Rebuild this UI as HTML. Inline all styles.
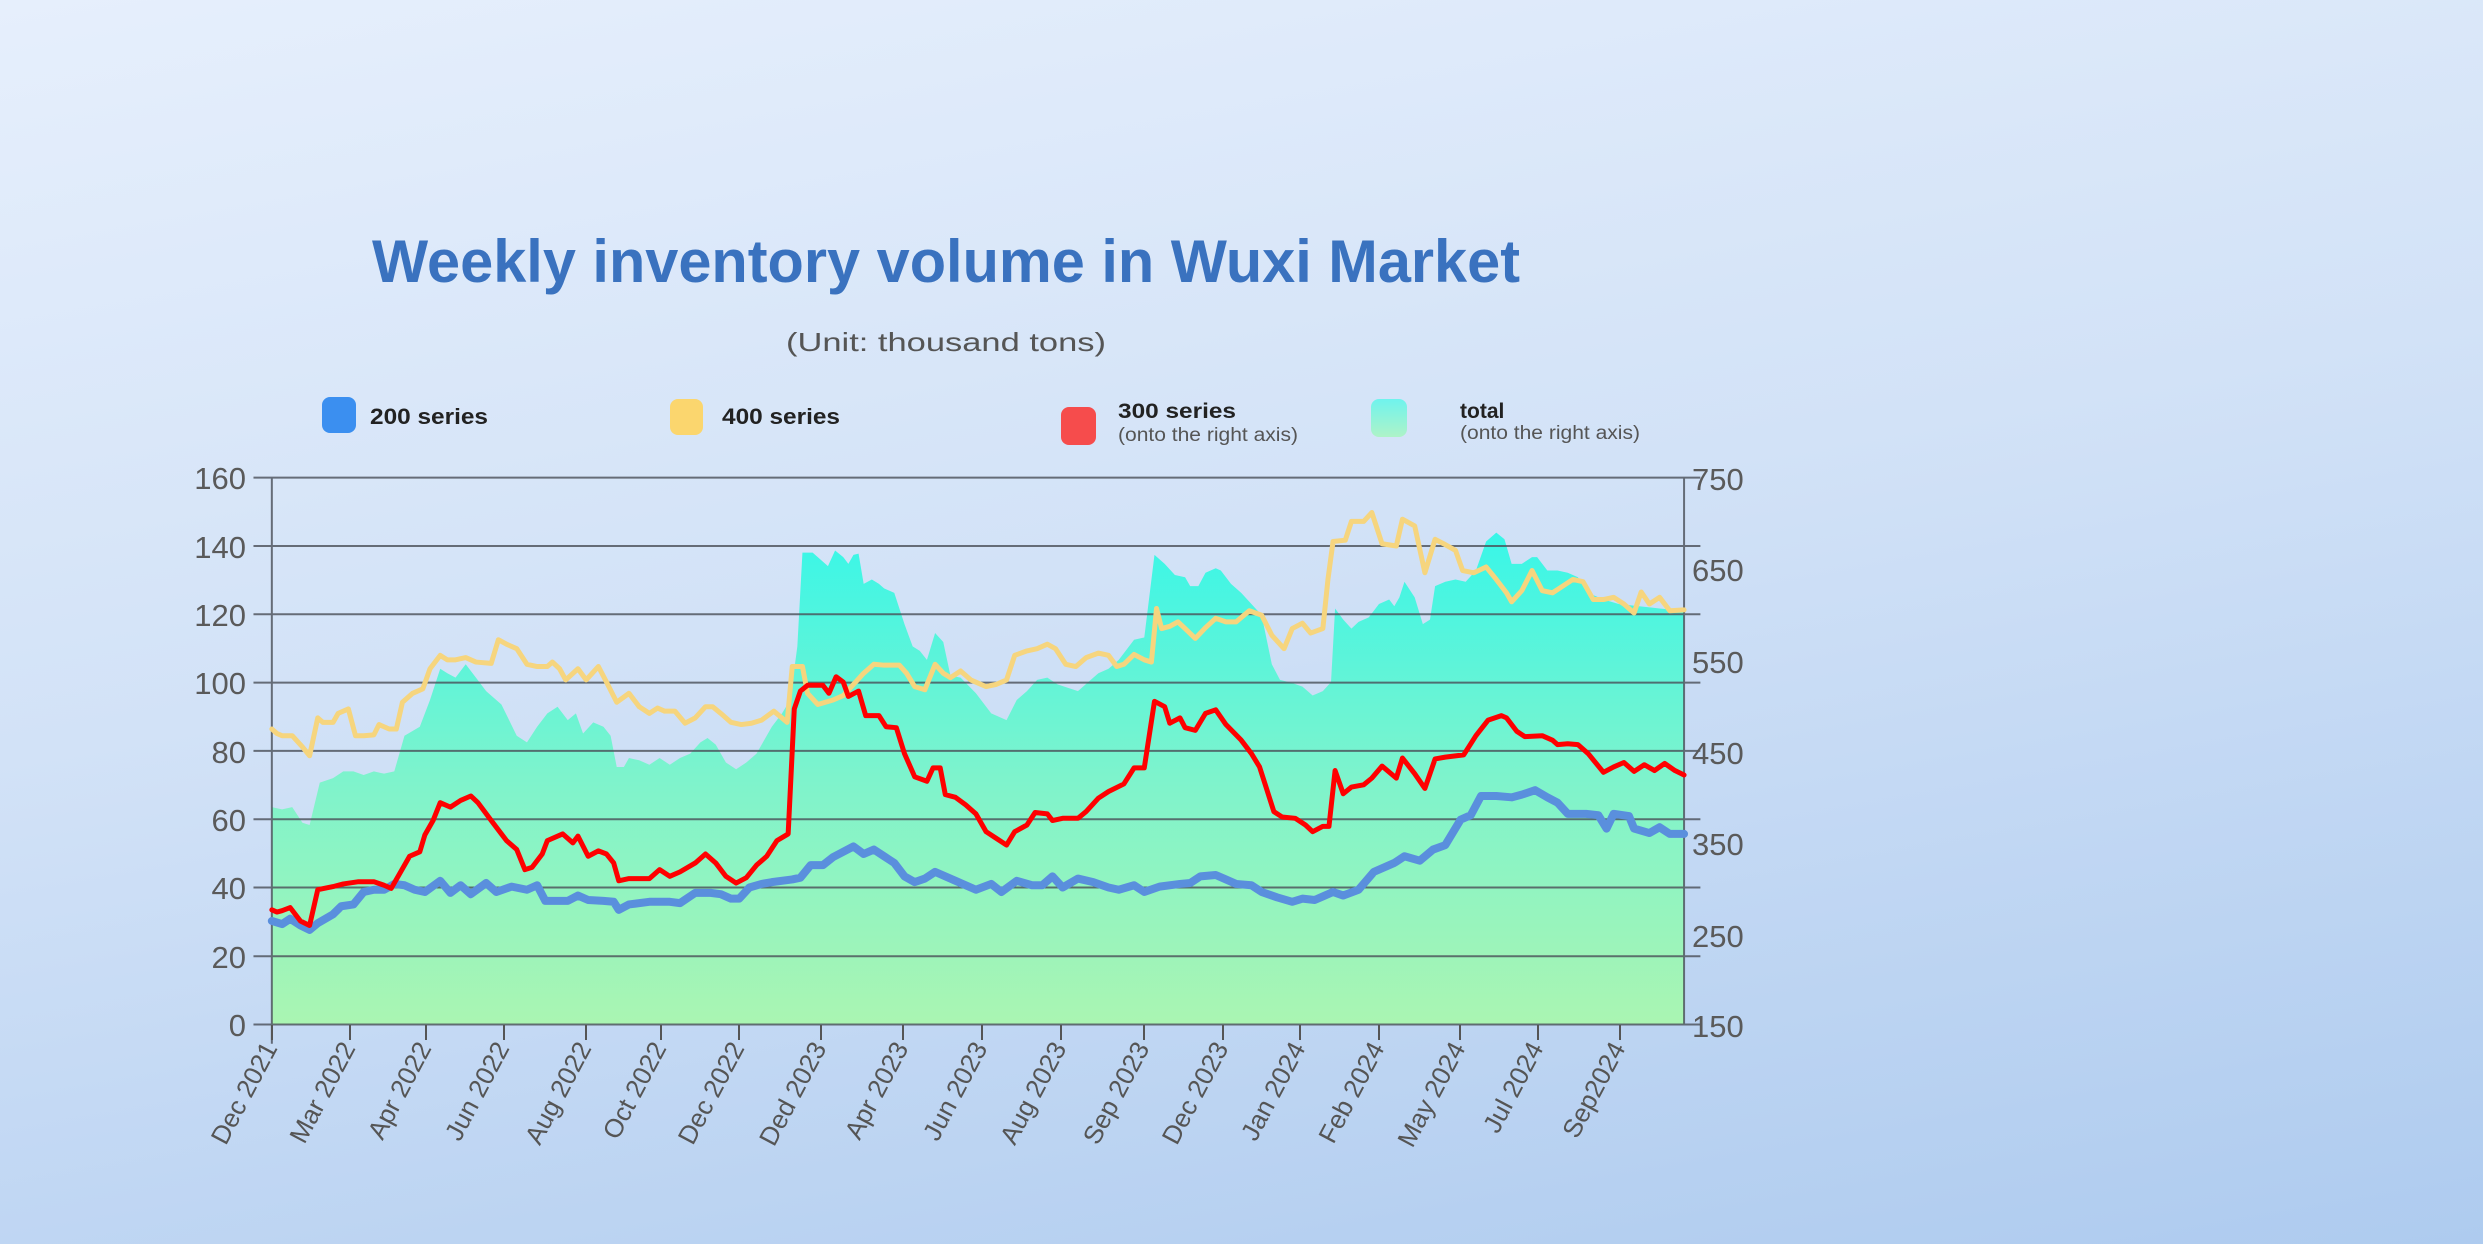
<!DOCTYPE html>
<html><head><meta charset="utf-8"><style>
html,body{margin:0;padding:0;width:2483px;height:1244px;overflow:hidden;}
body{background:linear-gradient(170deg,#e6effc 0%,#d2e2f7 45%,#aecbef 100%);}
svg{position:absolute;left:0;top:0;font-family:"Liberation Sans","DejaVu Sans",sans-serif;}
</style></head><body>
<svg width="2483" height="1244" viewBox="0 0 2483 1244">
<defs>
<linearGradient id="ag" x1="0" y1="0" x2="0" y2="1">
<stop offset="0" stop-color="#38f6e8"/><stop offset="0.5" stop-color="#7ef3cc"/><stop offset="1" stop-color="#aaf5b2"/>
</linearGradient>
<linearGradient id="lg" x1="0" y1="0" x2="0" y2="1">
<stop offset="0" stop-color="#6ff3ee"/><stop offset="1" stop-color="#aef3c8"/>
</linearGradient>
</defs>
<text x="946" y="282" text-anchor="middle" font-size="60" font-weight="bold" fill="#3a72bf" textLength="1148" lengthAdjust="spacingAndGlyphs">Weekly inventory volume in Wuxi Market</text>
<text x="946" y="351" text-anchor="middle" font-size="26" fill="#555" textLength="320" lengthAdjust="spacingAndGlyphs">(Unit: thousand tons)</text>
<!-- legend -->
<rect x="322" y="397" width="34" height="36" rx="8" fill="#3b8ff0"/>
<text x="370" y="424" font-size="22" font-weight="bold" fill="#222" textLength="118" lengthAdjust="spacingAndGlyphs">200 series</text>
<rect x="670" y="399" width="33" height="36" rx="8" fill="#fbd66e"/>
<text x="722" y="424" font-size="22" font-weight="bold" fill="#222" textLength="118" lengthAdjust="spacingAndGlyphs">400 series</text>
<rect x="1061" y="407" width="35" height="38" rx="8" fill="#f64c4c"/>
<text x="1118" y="418" font-size="21" font-weight="bold" fill="#222" textLength="118" lengthAdjust="spacingAndGlyphs">300 series</text>
<text x="1118" y="441" font-size="19" fill="#555" textLength="180" lengthAdjust="spacingAndGlyphs">(onto the right axis)</text>
<rect x="1371" y="399" width="36" height="38" rx="8" fill="url(#lg)"/>
<text x="1460" y="418" font-size="21" font-weight="bold" fill="#222">total</text>
<text x="1460" y="439" font-size="19" fill="#555" textLength="180" lengthAdjust="spacingAndGlyphs">(onto the right axis)</text>

<g transform="translate(180,450) scale(1.0204,0.44643)">
<path fill="url(#ag)" d="M90,800 L100,805 110,800 120,835 127,840 137,745 150,735 160,720 170,720 180,728 190,720 200,725 210,720 220,640 235,620 245,560 255,490 262,500 270,510 280,480 290,510 300,540 315,570 330,640 340,655 350,620 360,590 370,575 380,605 388,590 395,635 405,610 415,620 422,640 428,710 435,710 440,690 450,695 460,705 470,690 480,705 490,690 500,680 510,655 517,645 525,660 535,700 545,715 555,700 565,680 580,620 590,590 598,560 605,440 610,230 620,230 630,250 635,260 642,225 650,240 655,255 660,235 665,232 670,300 678,290 685,300 690,310 700,320 710,390 718,440 725,450 732,470 740,410 748,430 755,505 765,510 780,545 795,590 810,605 820,560 830,540 840,515 850,510 860,525 880,540 890,520 900,500 910,490 920,470 935,425 945,420 955,235 965,255 975,280 985,285 990,305 998,305 1005,275 1015,265 1020,270 1030,300 1040,320 1050,345 1060,370 1070,480 1078,515 1090,522 1100,530 1110,550 1120,540 1128,520 1132,355 1140,380 1148,400 1155,385 1165,375 1175,345 1185,335 1190,350 1195,330 1200,295 1210,330 1218,390 1225,380 1230,305 1240,295 1250,290 1260,295 1270,270 1280,205 1290,185 1298,200 1305,255 1315,255 1325,240 1330,240 1340,270 1350,270 1360,275 1370,285 1380,320 1395,335 1410,345 1430,350 1450,355 1474,360 L1474,1287 L90,1287 Z"/>
<g stroke="#4a4f58" stroke-width="2" vector-effect="non-scaling-stroke" opacity="0.8">
<line x1="72" y1="62" x2="1490" y2="62" vector-effect="non-scaling-stroke"/>
<line x1="72" y1="215" x2="1490" y2="215" vector-effect="non-scaling-stroke"/>
<line x1="72" y1="368" x2="1490" y2="368" vector-effect="non-scaling-stroke"/>
<line x1="72" y1="521" x2="1490" y2="521" vector-effect="non-scaling-stroke"/>
<line x1="72" y1="674" x2="1490" y2="674" vector-effect="non-scaling-stroke"/>
<line x1="72" y1="827" x2="1490" y2="827" vector-effect="non-scaling-stroke"/>
<line x1="72" y1="980" x2="1490" y2="980" vector-effect="non-scaling-stroke"/>
<line x1="72" y1="1134" x2="1490" y2="1134" vector-effect="non-scaling-stroke"/>
<line x1="72" y1="1287" x2="1490" y2="1287" vector-effect="non-scaling-stroke"/>
<line x1="90" y1="62" x2="90" y2="1330" vector-effect="non-scaling-stroke"/>
<line x1="1474" y1="62" x2="1474" y2="1287" vector-effect="non-scaling-stroke"/>
</g>
<g fill="none" stroke-linejoin="round" stroke-linecap="round">
<path stroke="#f6d57e" stroke-width="5" vector-effect="non-scaling-stroke" d="M90,625 L95,635 100,640 110,640 120,665 127,685 135,600 140,610 150,610 155,590 165,580 172,640 180,640 190,638 195,615 205,625 212,625 218,565 228,545 238,535 245,490 255,460 262,470 270,470 280,465 290,475 305,478 312,425 320,435 330,445 340,480 350,485 360,485 365,475 372,490 378,515 390,490 398,515 410,485 418,520 428,565 440,545 450,575 460,590 468,578 475,585 485,585 495,612 505,600 515,575 522,575 530,590 540,610 550,615 560,612 570,605 582,585 595,610 600,485 610,485 615,545 625,570 640,560 650,550 660,525 670,500 680,480 690,482 705,482 712,500 720,530 730,537 740,480 748,500 755,510 765,495 775,515 790,530 800,525 810,515 818,460 830,450 840,445 850,435 858,445 868,480 878,485 888,465 900,455 910,460 918,485 925,480 935,458 945,470 952,475 957,355 962,400 970,395 978,385 985,400 995,422 1005,398 1015,377 1025,385 1035,385 1048,360 1060,370 1070,415 1082,445 1090,400 1100,388 1108,410 1120,400 1125,290 1130,205 1142,202 1148,160 1160,160 1168,140 1178,210 1192,215 1198,155 1210,170 1220,275 1230,200 1240,212 1250,225 1257,270 1268,275 1280,262 1290,290 1300,320 1305,340 1315,315 1325,270 1335,315 1345,320 1355,305 1365,290 1375,295 1385,335 1395,335 1405,330 1415,345 1425,365 1432,318 1440,345 1450,330 1460,360 1474,358"/>
<path stroke="#5a8fdd" stroke-width="8" vector-effect="non-scaling-stroke" d="M90,1055 L100,1062 108,1050 118,1065 127,1075 135,1060 150,1040 158,1022 170,1018 180,990 190,985 200,985 210,972 220,975 230,985 240,990 255,965 265,992 275,975 285,995 300,970 310,990 325,978 340,985 350,975 358,1010 370,1010 380,1010 390,998 400,1008 415,1010 425,1012 430,1030 440,1018 460,1012 480,1012 490,1015 505,992 520,992 530,995 540,1005 548,1005 558,980 570,972 580,968 600,962 608,958 618,930 630,930 640,912 660,888 670,905 680,895 690,910 700,925 710,955 720,968 730,960 740,945 760,965 780,985 795,972 805,990 820,965 835,975 845,975 855,955 865,980 880,960 895,968 910,980 920,985 935,975 945,990 960,978 980,972 990,970 1000,955 1015,952 1025,962 1035,972 1050,975 1060,990 1075,1002 1090,1012 1100,1005 1112,1008 1120,1000 1130,990 1140,998 1155,985 1170,945 1190,925 1200,910 1215,920 1228,895 1240,885 1255,828 1265,818 1275,775 1290,775 1305,778 1315,772 1328,762 1340,778 1350,790 1360,815 1378,815 1390,818 1398,848 1405,815 1420,820 1425,848 1440,858 1450,845 1460,860 1474,860"/>
<path stroke="#ff0000" stroke-width="5" vector-effect="non-scaling-stroke" d="M90,1030 L95,1035 100,1032 108,1025 118,1055 127,1065 135,985 150,978 160,972 175,967 190,967 200,975 207,982 215,950 225,910 235,900 240,862 248,830 255,790 265,800 275,785 285,775 292,790 305,830 315,860 320,875 330,895 338,940 345,935 355,905 360,875 375,860 385,880 390,865 400,910 410,898 418,905 425,925 430,965 440,960 450,960 460,960 470,940 480,955 490,945 505,925 515,905 525,925 535,955 545,970 555,958 565,930 575,910 585,875 596,860 602,580 608,540 615,527 625,527 630,527 636,545 643,508 650,520 655,552 665,540 672,595 685,595 692,620 702,622 710,680 720,732 732,742 738,712 745,712 750,772 760,778 770,795 780,815 790,855 800,870 810,885 818,855 830,840 838,812 850,815 855,830 865,825 880,825 888,810 900,780 910,765 925,748 935,712 945,712 955,563 965,575 970,612 980,600 985,622 995,628 1005,590 1015,582 1025,615 1040,650 1050,680 1058,710 1065,760 1072,810 1080,822 1093,825 1103,840 1110,855 1120,843 1126,843 1132,718 1140,770 1148,755 1160,750 1168,735 1178,708 1192,735 1198,690 1210,725 1220,758 1230,692 1240,688 1258,683 1270,640 1282,605 1295,595 1300,600 1310,630 1318,642 1335,640 1345,650 1350,660 1360,658 1370,660 1380,680 1395,722 1405,710 1415,700 1425,720 1435,705 1445,718 1455,702 1465,718 1474,728"/>
</g>
</g>
<!-- bottom ticks -->
<g stroke="#555" stroke-width="2">
<line x1="272" y1="1025" x2="272" y2="1040"/><line x1="350" y1="1025" x2="350" y2="1040"/><line x1="426" y1="1025" x2="426" y2="1040"/><line x1="504" y1="1025" x2="504" y2="1040"/><line x1="586" y1="1025" x2="586" y2="1040"/><line x1="661" y1="1025" x2="661" y2="1040"/><line x1="739" y1="1025" x2="739" y2="1040"/><line x1="821" y1="1025" x2="821" y2="1040"/><line x1="903" y1="1025" x2="903" y2="1040"/><line x1="982" y1="1025" x2="982" y2="1040"/><line x1="1061" y1="1025" x2="1061" y2="1040"/><line x1="1144" y1="1025" x2="1144" y2="1040"/><line x1="1223" y1="1025" x2="1223" y2="1040"/><line x1="1300" y1="1025" x2="1300" y2="1040"/><line x1="1379" y1="1025" x2="1379" y2="1040"/><line x1="1460" y1="1025" x2="1460" y2="1040"/><line x1="1538" y1="1025" x2="1538" y2="1040"/><line x1="1620" y1="1025" x2="1620" y2="1040"/>
</g>
<g font-size="31" fill="#5a5a5a" text-anchor="end">
<text x="246" y="489">160</text><text x="246" y="558">140</text><text x="246" y="626">120</text><text x="246" y="694">100</text><text x="246" y="763">80</text><text x="246" y="831">60</text><text x="246" y="899">40</text><text x="246" y="968">20</text><text x="246" y="1036">0</text>
</g>
<g font-size="31" fill="#5a5a5a">
<text x="1692" y="490">750</text><text x="1692" y="581">650</text><text x="1692" y="673">550</text><text x="1692" y="764">450</text><text x="1692" y="855">350</text><text x="1692" y="947">250</text><text x="1692" y="1037">150</text>
</g>
<g font-size="26" fill="#555" text-anchor="end">
<text transform="translate(278,1048) rotate(-62)">Dec 2021</text>
<text transform="translate(356,1048) rotate(-62)">Mar 2022</text>
<text transform="translate(432,1048) rotate(-62)">Apr 2022</text>
<text transform="translate(510,1048) rotate(-62)">Jun 2022</text>
<text transform="translate(592,1048) rotate(-62)">Aug 2022</text>
<text transform="translate(667,1048) rotate(-62)">Oct 2022</text>
<text transform="translate(745,1048) rotate(-62)">Dec 2022</text>
<text transform="translate(827,1048) rotate(-62)">Ded 2023</text>
<text transform="translate(909,1048) rotate(-62)">Apr 2023</text>
<text transform="translate(988,1048) rotate(-62)">Jun 2023</text>
<text transform="translate(1067,1048) rotate(-62)">Aug 2023</text>
<text transform="translate(1150,1048) rotate(-62)">Sep 2023</text>
<text transform="translate(1229,1048) rotate(-62)">Dec 2023</text>
<text transform="translate(1306,1048) rotate(-62)">Jan 2024</text>
<text transform="translate(1385,1048) rotate(-62)">Feb 2024</text>
<text transform="translate(1466,1048) rotate(-62)">May 2024</text>
<text transform="translate(1544,1048) rotate(-62)">Jul 2024</text>
<text transform="translate(1626,1048) rotate(-62)">Sep2024</text>
</g>
</svg>
</body></html>
